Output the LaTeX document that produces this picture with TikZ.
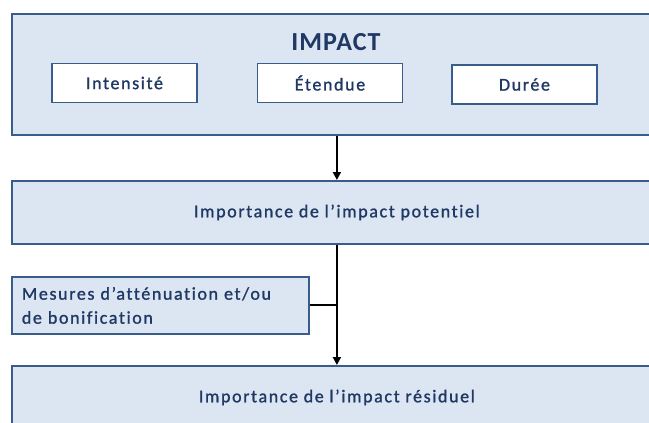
\documentclass[tikz,border=0pt]{standalone}
\usepackage{fontspec}
\setmainfont{Carlito}
\newfontfamily\spc[LetterSpace=9,FakeBold=1.2,Ligatures=NoCommon]{Carlito}
\newfontfamily\ttl[LetterSpace=4,Ligatures=NoCommon]{Carlito}
\usetikzlibrary{arrows.meta}
\definecolor{boxfill}{HTML}{DCE6F2}
\definecolor{boxline}{HTML}{385D8A}
\definecolor{txt}{HTML}{1F3864}
\tikzset{
  bigbox/.style={draw=boxline, fill=boxfill, line width=1.8pt, anchor=north west, inner sep=0pt, text=txt, font=\spc\fontsize{18}{24}\selectfont},
  subbox/.style={draw=boxline, fill=white, line width=1.8pt, minimum width=145pt, minimum height=39pt, inner sep=0pt, text=txt, font=\spc\fontsize{18}{24}\selectfont},
  arr/.style={line width=2pt, -{Triangle[width=8pt,length=8pt]}},
  link/.style={line width=2pt}
}
\begin{document}
\begin{tikzpicture}[x=1pt,y=-1pt]
\useasboundingbox (0,0) rectangle (649,423);
\clip (0,0) rectangle (649,423);
\node[bigbox, minimum width=650pt, minimum height=121pt] (impact) at (11,13) {};
\node[text=txt, font=\ttl\fontsize{26}{28}\selectfont\bfseries] (title) at (336,42) {IMPACT};
\node[subbox] (inten) at (124.5,83) {Intensité};
\node[subbox] (eten) at (330,83) {Étendue};
\node[subbox] (duree) at (524.5,84.5) {Durée};
\node[bigbox, minimum width=650pt, minimum height=63pt] (pot) at (11,180) {Importance de l’impact potentiel};
\node[bigbox, minimum height=57pt, text width=277pt, inner xsep=10pt, align=left] (mes) at (11,276) {Mesures d’atténuation et/ou\\de bonification};
\node[bigbox, minimum width=650pt, minimum height=63pt] (res) at (11,365) {Importance de l’impact résiduel};
\draw[arr] (impact.south) -- (pot.north);
\draw[arr] (pot.south) -- (res.north);
\draw[link] (mes.east) -- (mes.east -| pot.south);
\end{tikzpicture}
\end{document}
